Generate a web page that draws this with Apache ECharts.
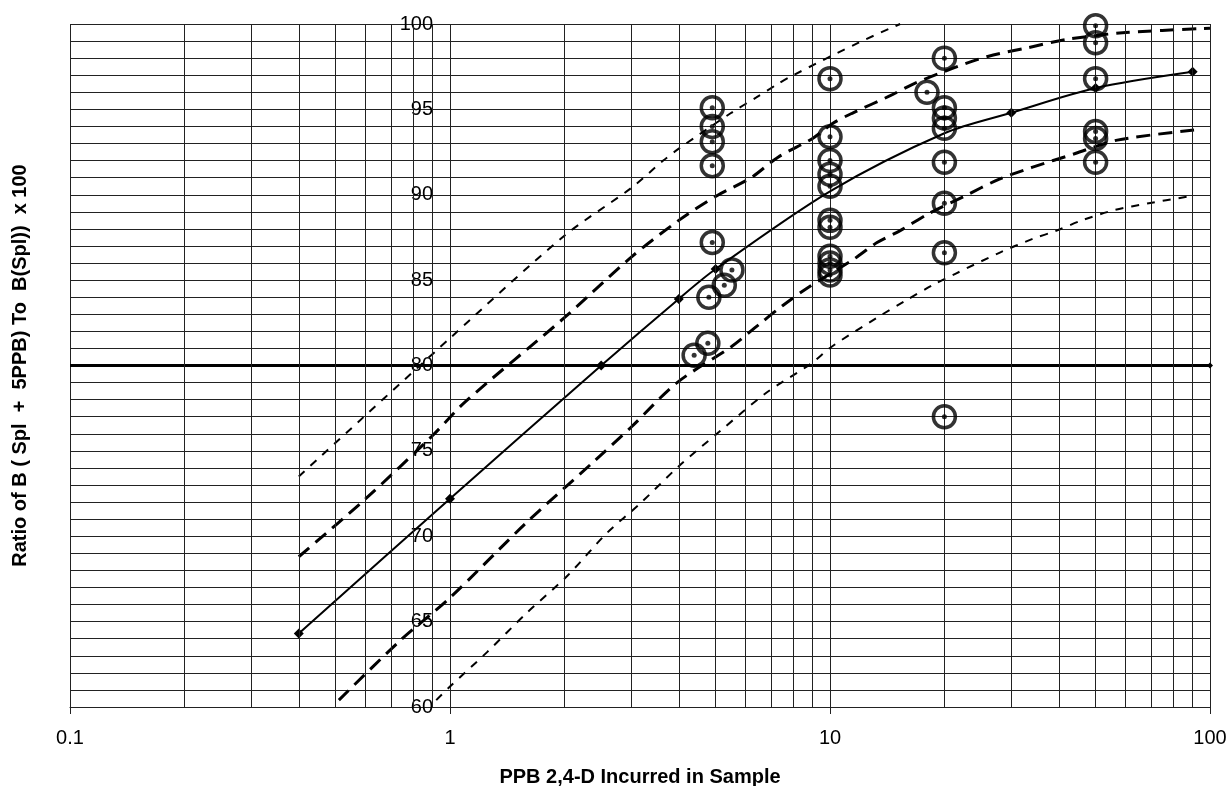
<!DOCTYPE html>
<html>
<head>
<meta charset="utf-8">
<title>Ratio vs PPB 2,4-D</title>
<script src="https://cdn.jsdelivr.net/npm/echarts@6/dist/echarts.min.js"></script>
<style>
  html, body { margin: 0; padding: 0; background: #fff; }
  #chart { width: 1231px; height: 786px; }
</style>
</head>
<body>
<div id="chart"></div>
<script>
// tick labels / grid positions
const yTicks = [60, 65, 70, 75, 80, 85, 90, 95, 100];
const xMinorGrid = [0.2, 0.3, 0.4, 0.5, 0.6, 0.7, 0.8, 0.9,
                    2, 3, 4, 5, 6, 7, 8, 9,
                    20, 30, 40, 50, 60, 70, 80, 90];

// solid fitted curve (diamonds where marked)
const solidX = [0.4, 1, 2.5, 4, 5, 10, 20, 30, 50, 90];
const solidY = [64.3, 72.2, 80, 83.9, 85.65, 90.2, 93.6, 94.8, 96.25, 97.2];
const solidMarked = [true, true, true, true, true, false, false, true, true, true];

// upper outer (short dash)
const upperOuterX = [0.4, 1, 2, 3, 3.64, 4, 5.5, 6.4, 7.3, 8, 12, 15.3];
const upperOuterY = [73.5, 81.6, 87.6, 90.4, 92.0, 92.7, 94.8, 95.7, 96.5, 97.0, 98.95, 100];

// upper inner (long dash)
const upperInnerX = [0.4, 0.6, 0.9, 1.1, 2, 3, 4, 5, 6.2, 7.3, 9, 10.2, 11.5, 14.4, 16.6, 21, 26, 33, 42, 60, 100];
const upperInnerY = [68.8, 72.2, 75.9, 77.9, 82.8, 86.35, 88.5, 89.9, 91.0, 92.2, 93.3, 94.2, 94.8, 95.8, 96.5, 97.4, 98.1, 98.6, 99.1, 99.5, 99.75];

// lower inner (long dash)
const lowerInnerX = [0.51, 0.74, 1, 1.59, 2.37, 3, 3.96, 5.5, 6.5, 7.5, 8.8, 11.5, 13.3, 15.3, 18.2, 22.5, 27.8, 34, 44, 57, 92];
const lowerInnerY = [60.4, 63.9, 66.4, 70.8, 74.3, 76.4, 79.0, 81.1, 82.4, 83.5, 84.6, 86.2, 87.2, 87.9, 88.9, 89.9, 90.9, 91.6, 92.4, 93.2, 93.8];

// lower outer (short dash)
const lowerOuterX = [0.92, 1.0, 1.25, 1.59, 2.04, 2.59, 3.16, 4.0, 5.1, 6.8, 8.9, 10.1, 13.3, 15.8, 18.6, 21.5, 27.9, 34, 39.5, 46, 56, 69, 88];
const lowerOuterY = [60.4, 61.2, 63.2, 65.5, 67.7, 70.2, 71.9, 74.1, 76.1, 78.4, 80.1, 81.1, 82.8, 83.8, 84.7, 85.4, 86.6, 87.4, 87.9, 88.5, 89.1, 89.5, 89.9];

// observed samples (open circles with centre dot)
const sampleX = [4.9, 4.9, 4.9, 4.9, 4.9, 5.52, 5.27, 4.8, 4.77, 4.39,
                 10, 10, 10, 10, 10, 10, 10, 10, 10, 10, 10,
                 20, 18, 20, 20, 20, 20, 20, 20, 20,
                 50, 50, 50, 50, 50, 50];
const sampleY = [95.1, 94.0, 93.1, 91.7, 87.2, 85.6, 84.7, 84.0, 81.3, 80.6,
                 96.8, 93.4, 92.0, 91.2, 90.5, 88.5, 88.1, 86.4, 86.0, 85.6, 85.3,
                 98.0, 96.0, 95.1, 94.5, 93.9, 91.9, 89.5, 86.6, 77.0,
                 99.9, 98.9, 96.8, 93.7, 93.3, 91.9];

// reference level
const refX = [0.1, 100];
const refY = [80, 80];

function zip(xs, ys) {
  return xs.map(function (x, i) { return [x, ys[i]]; });
}

const FONT = '"Liberation Sans", Arial, Helvetica, sans-serif';
const GRID = '#222';

const chart = echarts.init(document.getElementById('chart'));

const solidData = solidX.map(function (x, i) {
  return { value: [x, solidY[i]], symbol: solidMarked[i] ? 'diamond' : 'none' };
});
const samples = zip(sampleX, sampleY);

function dashed(data, width, dash) {
  return {
    type: 'line',
    data: data,
    smooth: 0.3,
    showSymbol: false,
    symbol: 'none',
    z: 3,
    lineStyle: { color: '#000', width: width, type: dash },
    silent: true
  };
}

const option = {
  animation: false,
  backgroundColor: '#fff',
  grid: { left: 70, right: 21, top: 24, bottom: 79, containLabel: false, outerBoundsMode: 'none' },
  xAxis: {
    type: 'log',
    logBase: 10,
    min: 0.1,
    max: 100,
    name: 'PPB 2,4-D Incurred in Sample',
    nameLocation: 'middle',
    nameGap: 60,
    nameTextStyle: { fontFamily: FONT, fontSize: 20, fontWeight: 'bold', color: '#000' },
    axisLine: { show: true, lineStyle: { color: GRID, width: 1 } },
    axisTick: { show: true, length: 7, lineStyle: { color: GRID } },
    axisLabel: {
      fontFamily: FONT, fontSize: 20, color: '#000', margin: 21,
      formatter: function (v) { return String(+v.toPrecision(3)); }
    },
    splitLine: { show: true, lineStyle: { color: GRID, width: 1 } }
  },
  yAxis: [{
    type: 'value',
    min: 60,
    max: 100,
    interval: 5,
    position: 'left',
    offset: -363,
    axisLine: { show: false },
    axisTick: { show: false },
    axisLabel: {
      fontFamily: FONT, fontSize: 20, color: '#000', margin: 0,
      formatter: function (v) { return yTicks.indexOf(v) >= 0 ? String(v) : ''; }
    },
    splitLine: { show: true, lineStyle: { color: GRID, width: 1 } },
    minorTick: { show: false, splitNumber: 5 },
    minorSplitLine: { show: true, lineStyle: { color: GRID, width: 1 } }
  }, {
    type: 'value',
    min: 60,
    max: 100,
    position: 'left',
    name: 'Ratio of B ( Spl  +  5PPB) To  B(Spl))  x 100',
    nameLocation: 'middle',
    nameGap: 40,
    nameTextStyle: { fontFamily: FONT, fontSize: 20, fontWeight: 'bold', color: '#000' },
    axisLine: { show: false },
    axisTick: { show: false },
    axisLabel: { show: false },
    splitLine: { show: false }
  }],
  series: [
    {
      // reference line at 80, also hosts the minor log grid lines
      type: 'line',
      data: [{ value: [refX[0], refY[0]], symbol: 'none' },
             { value: [refX[1], refY[1]], symbol: 'diamond', symbolSize: 6 }],
      showSymbol: true,
      z: 2,
      silent: true,
      itemStyle: { color: '#000' },
      lineStyle: { color: '#000', width: 3 },
      markLine: {
        silent: true,
        symbol: ['none', 'none'],
        label: { show: false },
        lineStyle: { color: GRID, width: 1, type: 'solid' },
        emphasis: { disabled: true },
        data: xMinorGrid.map(function (v) { return { xAxis: v }; })
      }
    },
    dashed(zip(upperOuterX, upperOuterY), 2, [8, 8]),
    dashed(zip(upperInnerX, upperInnerY), 3, [14, 8]),
    dashed(zip(lowerInnerX, lowerInnerY), 3, [14, 8]),
    dashed(zip(lowerOuterX, lowerOuterY), 2, [8, 8]),
    {
      type: 'line',
      data: solidData,
      smooth: 0.3,
      showSymbol: true,
      symbolSize: 10,
      z: 4,
      silent: true,
      itemStyle: { color: '#000' },
      lineStyle: { color: '#000', width: 2 }
    },
    {
      type: 'scatter',
      data: samples,
      symbol: 'circle',
      symbolSize: 22,
      z: 5,
      silent: true,
      itemStyle: { color: 'rgba(255,255,255,0)', borderColor: '#000', borderWidth: 3.5 }
    },
    {
      type: 'scatter',
      data: samples,
      symbol: 'circle',
      symbolSize: 5,
      z: 6,
      silent: true,
      itemStyle: { color: '#000' }
    }
  ]
};

chart.setOption(option);
</script>
</body>
</html>
